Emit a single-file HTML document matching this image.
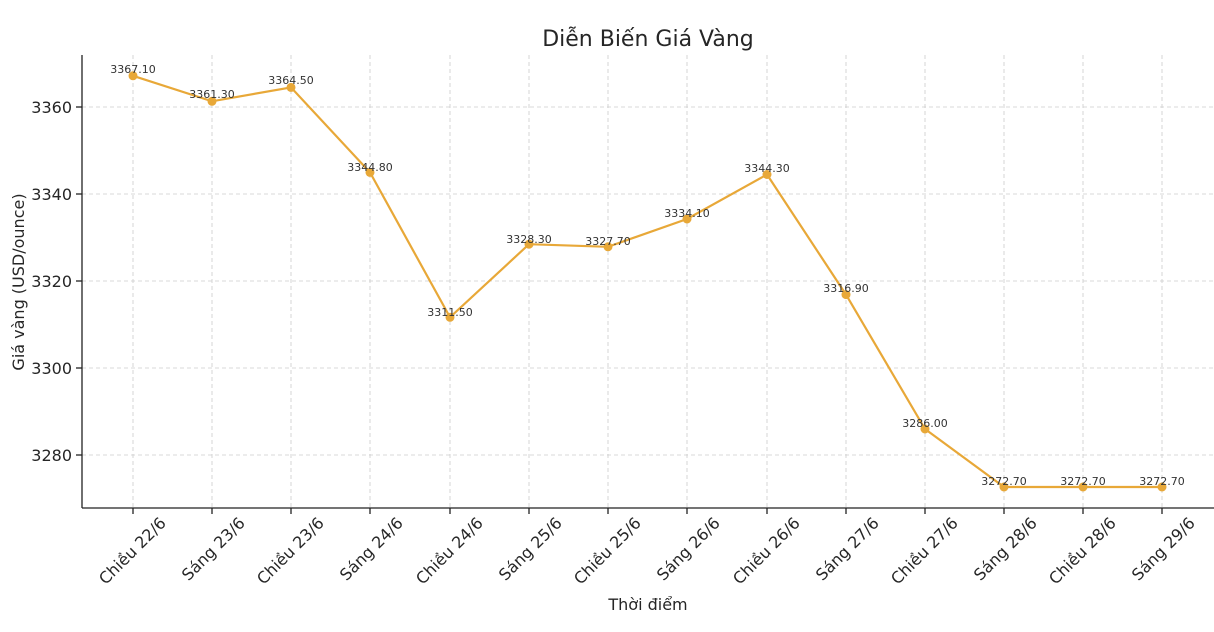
<!DOCTYPE html>
<html><head><meta charset="utf-8"><style>
body{margin:0;background:#fff;}
svg{display:block;font-family:"DejaVu Sans","Liberation Sans",sans-serif;}
</style></head><body>
<svg width="1214" height="632" viewBox="0 0 1214 632" xmlns="http://www.w3.org/2000/svg">
<text x="648" y="46" font-size="22" text-anchor="middle" fill="#262626">Diễn Biến Giá Vàng</text>
<g stroke="#cccccc" stroke-width="0.8" stroke-dasharray="4,3">
<line x1="82" x2="1214" y1="107" y2="107"/><line x1="82" x2="1214" y1="194" y2="194"/>
<line x1="82" x2="1214" y1="281" y2="281"/><line x1="82" x2="1214" y1="368" y2="368"/>
<line x1="82" x2="1214" y1="455" y2="455"/>
<line y1="55" y2="508" x1="133" x2="133"/><line y1="55" y2="508" x1="212" x2="212"/>
<line y1="55" y2="508" x1="291" x2="291"/><line y1="55" y2="508" x1="370" x2="370"/>
<line y1="55" y2="508" x1="450" x2="450"/><line y1="55" y2="508" x1="529" x2="529"/>
<line y1="55" y2="508" x1="608" x2="608"/><line y1="55" y2="508" x1="687" x2="687"/>
<line y1="55" y2="508" x1="767" x2="767"/><line y1="55" y2="508" x1="846" x2="846"/>
<line y1="55" y2="508" x1="925" x2="925"/><line y1="55" y2="508" x1="1004" x2="1004"/>
<line y1="55" y2="508" x1="1083" x2="1083"/><line y1="55" y2="508" x1="1162" x2="1162"/>
</g>
<g stroke="#222" stroke-width="1.3">
<line x1="82" y1="55" x2="82" y2="508"/><line x1="82" y1="508" x2="1214" y2="508"/>
<line x1="76" x2="82" y1="107" y2="107"/><line x1="76" x2="82" y1="194" y2="194"/>
<line x1="76" x2="82" y1="281" y2="281"/><line x1="76" x2="82" y1="368" y2="368"/>
<line x1="76" x2="82" y1="455" y2="455"/>
</g>
<g font-size="16" fill="#262626" text-anchor="end">
<text x="72" y="113">3360</text><text x="72" y="200">3340</text><text x="72" y="287">3320</text>
<text x="72" y="374">3300</text><text x="72" y="461">3280</text>
</g>
<g stroke="#222" stroke-width="1.3">
<line x1="133" x2="133" y1="508" y2="514"/><line x1="212" x2="212" y1="508" y2="514"/>
<line x1="291" x2="291" y1="508" y2="514"/><line x1="370" x2="370" y1="508" y2="514"/>
<line x1="450" x2="450" y1="508" y2="514"/><line x1="529" x2="529" y1="508" y2="514"/>
<line x1="608" x2="608" y1="508" y2="514"/><line x1="687" x2="687" y1="508" y2="514"/>
<line x1="767" x2="767" y1="508" y2="514"/><line x1="846" x2="846" y1="508" y2="514"/>
<line x1="925" x2="925" y1="508" y2="514"/><line x1="1004" x2="1004" y1="508" y2="514"/>
<line x1="1083" x2="1083" y1="508" y2="514"/><line x1="1162" x2="1162" y1="508" y2="514"/>
</g>
<g font-size="16" fill="#262626" text-anchor="end">
<text transform="translate(167,524) rotate(-45)">Chiều 22/6</text>
<text transform="translate(246,524) rotate(-45)">Sáng 23/6</text>
<text transform="translate(325,524) rotate(-45)">Chiều 23/6</text>
<text transform="translate(404,524) rotate(-45)">Sáng 24/6</text>
<text transform="translate(484,524) rotate(-45)">Chiều 24/6</text>
<text transform="translate(563,524) rotate(-45)">Sáng 25/6</text>
<text transform="translate(642,524) rotate(-45)">Chiều 25/6</text>
<text transform="translate(721,524) rotate(-45)">Sáng 26/6</text>
<text transform="translate(801,524) rotate(-45)">Chiều 26/6</text>
<text transform="translate(880,524) rotate(-45)">Sáng 27/6</text>
<text transform="translate(959,524) rotate(-45)">Chiều 27/6</text>
<text transform="translate(1038,524) rotate(-45)">Sáng 28/6</text>
<text transform="translate(1117,524) rotate(-45)">Chiều 28/6</text>
<text transform="translate(1196,524) rotate(-45)">Sáng 29/6</text>
</g>
<text x="648" y="610" font-size="16" text-anchor="middle" fill="#262626">Thời điểm</text>
<text transform="translate(24,282) rotate(-90)" font-size="16" text-anchor="middle" fill="#262626">Giá vàng (USD/ounce)</text>
<polyline fill="none" stroke="#E8A838" stroke-width="2.2" points="133,75.8 212,101.3 291,87.4 370,172.4 450,317.3 529,244.2 608,246.8 687,219 767,174.5 846,294.6 925,429 1004,487 1083,487 1162,487"/>
<g fill="#E8A838">
<circle cx="133" cy="75.8" r="4.5"/><circle cx="212" cy="101.3" r="4.5"/><circle cx="291" cy="87.4" r="4.5"/>
<circle cx="370" cy="172.4" r="4.5"/><circle cx="450" cy="317.3" r="4.5"/><circle cx="529" cy="244.2" r="4.5"/>
<circle cx="608" cy="246.8" r="4.5"/><circle cx="687" cy="219" r="4.5"/><circle cx="767" cy="174.5" r="4.5"/>
<circle cx="846" cy="294.6" r="4.5"/><circle cx="925" cy="429" r="4.5"/><circle cx="1004" cy="487" r="4.5"/>
<circle cx="1083" cy="487" r="4.5"/><circle cx="1162" cy="487" r="4.5"/>
</g>
<g font-size="11" fill="#333" text-anchor="middle">
<text x="133" y="73">3367.10</text><text x="212" y="98">3361.30</text><text x="291" y="84">3364.50</text>
<text x="370" y="171">3344.80</text><text x="450" y="316">3311.50</text><text x="529" y="243">3328.30</text>
<text x="608" y="245">3327.70</text><text x="687" y="217">3334.10</text><text x="767" y="172">3344.30</text>
<text x="846" y="292">3316.90</text><text x="925" y="427">3286.00</text><text x="1004" y="485">3272.70</text>
<text x="1083" y="485">3272.70</text><text x="1162" y="485">3272.70</text>
</g>
</svg>
</body></html>
